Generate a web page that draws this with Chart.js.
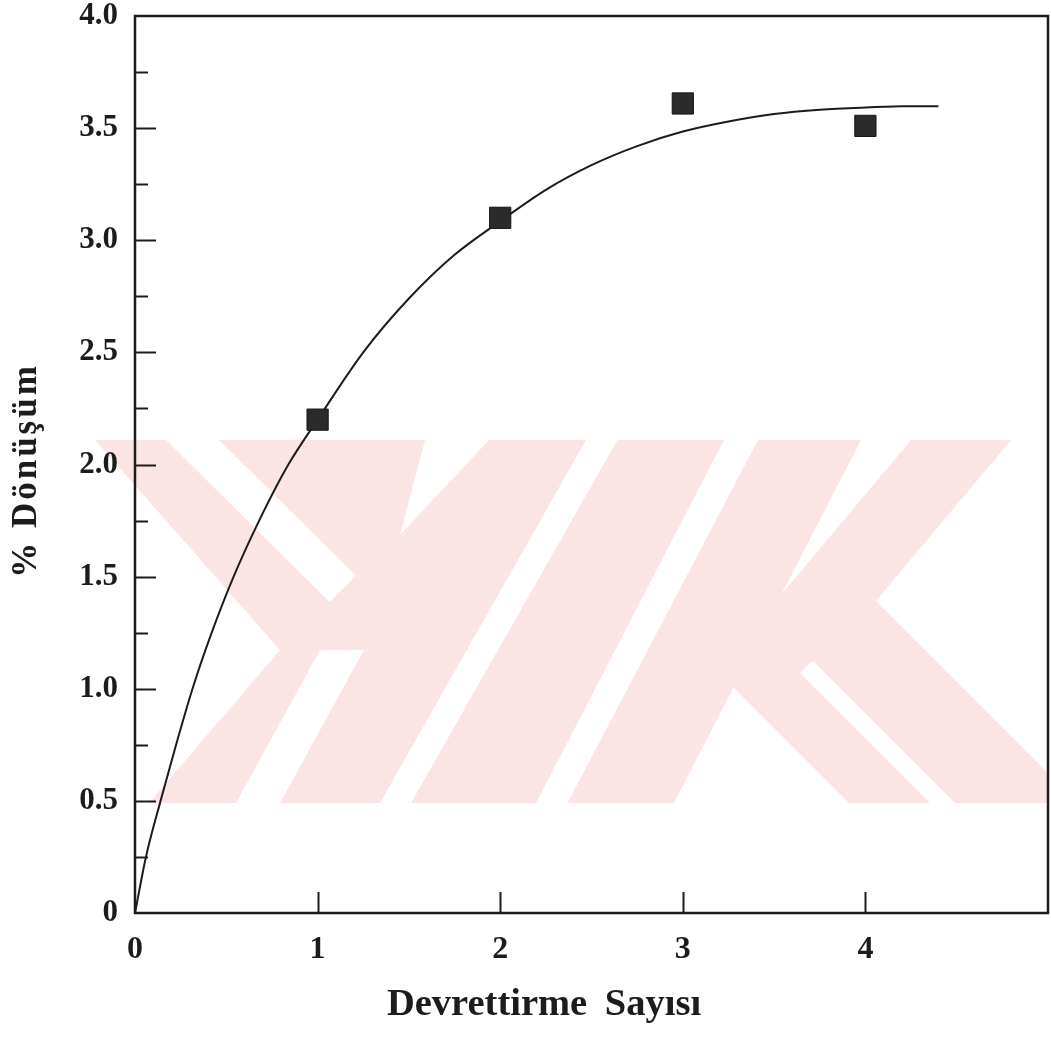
<!DOCTYPE html>
<html>
<head>
<meta charset="utf-8">
<script src="https://cdn.jsdelivr.net/npm/chart.js@4.4.1/dist/chart.umd.min.js"></script>
<style>
  html, body { margin: 0; padding: 0; background: #ffffff; }
  #wrap { width: 1051px; height: 1038px; position: relative; }
</style>
</head>
<body>
<div id="wrap"><canvas id="c"></canvas></div>
<script>
// ---------------- data ----------------
const xTickLabels = ['0', '1', '2', '3', '4'];
const yTickLabels = ['0', '0.5', '1.0', '1.5', '2.0', '2.5', '3.0', '3.5', '4.0'];

// measured points (filled squares)
const measuredX = [1, 2, 3, 4];
const measuredY = [2.20, 3.10, 3.61, 3.51];

// fitted curve
const fitX = [0, 0.06, 0.14, 0.225, 0.315, 0.42, 0.54, 0.68, 0.84, 1.00, 1.25, 1.50, 1.75, 2.00, 2.25, 2.50, 2.75, 3.00, 3.25, 3.50, 3.75, 4.00, 4.20, 4.40];
const fitY = [0, 0.25, 0.50, 0.75, 1.00, 1.25, 1.50, 1.75, 2.00, 2.20, 2.50, 2.74, 2.935, 3.085, 3.225, 3.335, 3.42, 3.485, 3.53, 3.563, 3.582, 3.592, 3.597, 3.598];

const xTitle = 'Devrettirme Sayısı';
const yTitle = '% Dönüşüm';

// ---------------- styling ----------------
const INK = '#1c1c1c';
const SERIF = '"Liberation Serif", "Times New Roman", Times, serif';
const WM_PINK = '#fbe4e4';

// background watermark (decoration, page pixels)
const wmPink = [
  [[95,440],[425,440],[400,535],[489,440],[586,440],[380,803],[149,803],[280,650]],
  [[411,803],[536,803],[724,440],[617.5,440]],
  [[567.5,803],[674,803],[861,440],[758,440]],
  [[911,440],[1011,440],[860,620],[760,620]],
  [[690,644],[790,592],[867,592],[1048,773],[1048,803],[849,803]]
];
const wmWhite = [
  [[166,440],[219,440],[356,575.5],[329.5,602]],
  [[236,803],[280,803],[364,650],[320,650]],
  [[930,803],[955,803],[812.5,660.5],[800,673]]
];

function isHalf(v) { return Math.abs(v * 2 - Math.round(v * 2)) < 1e-6; }

const framePlugin = {
  id: 'frame',
  beforeDraw(chart) {
    const ctx = chart.ctx;
    ctx.save();
    const fillPolys = (polys, color) => {
      ctx.fillStyle = color;
      polys.forEach(p => {
        ctx.beginPath();
        p.forEach((pt, i) => i ? ctx.lineTo(pt[0], pt[1]) : ctx.moveTo(pt[0], pt[1]));
        ctx.closePath();
        ctx.fill();
      });
    };
    fillPolys(wmPink, WM_PINK);
    fillPolys(wmWhite, '#ffffff');
    ctx.restore();
  },
  afterDraw(chart) {
    const { ctx, chartArea: a, scales } = chart;
    const xs = scales.x, ys = scales.y;
    ctx.save();
    ctx.strokeStyle = INK;
    ctx.lineCap = 'butt';
    // inward ticks
    ctx.lineWidth = 2;
    ys.ticks.forEach(t => {
      if (t.value <= ys.min || t.value >= ys.max) return;
      const p = Math.round(ys.getPixelForValue(t.value)) + 0.5;
      const len = isHalf(t.value) ? 21 : 13;
      ctx.beginPath(); ctx.moveTo(a.left, p); ctx.lineTo(a.left + len, p); ctx.stroke();
    });
    xs.ticks.forEach(t => {
      if (t.value <= xs.min || t.value >= xs.max) return;
      const p = Math.round(xs.getPixelForValue(t.value)) + 0.5;
      ctx.beginPath(); ctx.moveTo(p, a.bottom); ctx.lineTo(p, a.bottom - 21); ctx.stroke();
    });
    // frame
    ctx.lineWidth = 2.5;
    ctx.strokeRect(a.left, a.top, a.right - a.left, a.bottom - a.top);
    // axis titles
    ctx.fillStyle = INK;
    ctx.textAlign = 'center';
    ctx.textBaseline = 'alphabetic';
    ctx.font = 'bold 38.5px ' + SERIF;
    try { ctx.wordSpacing = '8px'; } catch (e) {}
    ctx.fillText(xTitle, xs.getPixelForValue(2.24), a.bottom + 102);
    try { ctx.wordSpacing = '0px'; } catch (e) {}
    ctx.translate(36, (a.top + a.bottom) / 2 + 6);
    ctx.rotate(-Math.PI / 2);
    ctx.font = 'bold 35px ' + SERIF;
    try { ctx.letterSpacing = '3px'; } catch (e) {}
    ctx.fillText(yTitle, 0, 0);
    ctx.restore();
  }
};

const curveData = fitX.map((x, i) => ({ x: x, y: fitY[i] }));
const pointData = measuredX.map((x, i) => ({ x: x, y: measuredY[i] }));

new Chart(document.getElementById('c'), {
  type: 'scatter',
  data: {
    datasets: [
      {
        type: 'line',
        label: 'fit',
        data: curveData,
        borderColor: INK,
        borderWidth: 2,
        pointRadius: 0,
        fill: false,
        cubicInterpolationMode: 'monotone',
        order: 2
      },
      {
        type: 'scatter',
        label: 'measured',
        data: pointData,
        pointStyle: 'rect',
        pointRadius: 15,
        pointHoverRadius: 15,
        backgroundColor: '#2b2b2b',
        borderColor: '#151515',
        borderWidth: 1,
        order: 1
      }
    ]
  },
  options: {
    responsive: true,
    maintainAspectRatio: false,
    animation: false,
    layout: { autoPadding: false, padding: { top: 16, right: 3, left: 0, bottom: 0 } },
    plugins: { legend: { display: false }, tooltip: { enabled: false }, title: { display: false } },
    scales: {
      x: {
        type: 'linear',
        min: 0, max: 5,
        grid: { display: false, drawTicks: false, tickLength: 0 },
        border: { display: false },
        ticks: {
          stepSize: 1,
          padding: 18,
          color: INK,
          font: { family: SERIF, size: 32, weight: 'bold' },
          maxRotation: 0,
          callback: v => (Number.isInteger(v) && v < xTickLabels.length) ? xTickLabels[v] : ''
        },
        afterFit: s => { s.height = 125; s.paddingLeft = 0; s.paddingRight = 0; }
      },
      y: {
        type: 'linear',
        min: 0, max: 4,
        grid: { display: false, drawTicks: false, tickLength: 0 },
        border: { display: false },
        ticks: {
          stepSize: 0.25,
          padding: 17,
          color: INK,
          autoSkip: false,
          font: { family: SERIF, size: 31, weight: 'bold' },
          callback: v => isHalf(v) ? yTickLabels[Math.round(v * 2)] : ''
        },
        afterFit: s => { s.width = 135; s.paddingTop = 0; s.paddingBottom = 0; }
      }
    }
  },
  plugins: [framePlugin]
});
</script>
</body>
</html>
